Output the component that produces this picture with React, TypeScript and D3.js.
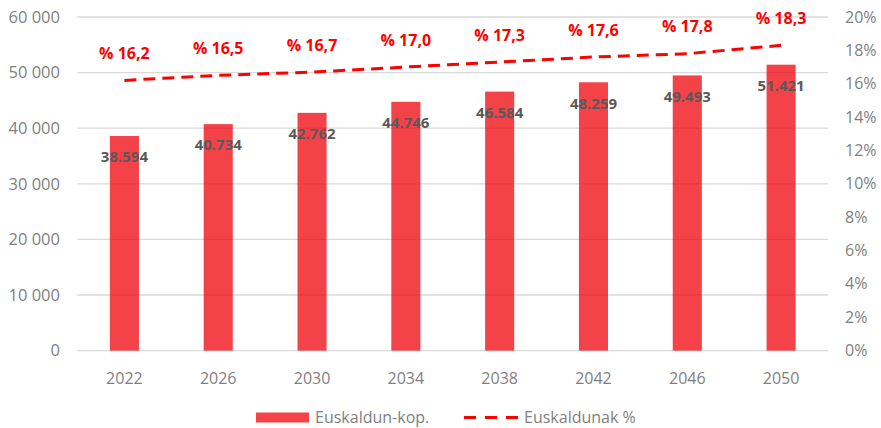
import React from "react";
import * as d3 from "d3";

const years = ["2022", "2026", "2030", "2034", "2038", "2042", "2046", "2050"];
const speakers = [38594, 40734, 42762, 44746, 46584, 48259, 49493, 51421];
const shares = [16.2, 16.5, 16.7, 17.0, 17.3, 17.6, 17.8, 18.3];
const leftTicks = [0, 10000, 20000, 30000, 40000, 50000, 60000];
const rightTicks = [0, 2, 4, 6, 8, 10, 12, 14, 16, 18, 20];

const W = 881;
const H = 428;
const FONT = "'Open Sans', 'Noto Sans', sans-serif";

const App: React.FC = () => {
	const x = d3.scaleBand().domain(years).range([77.5, 828]).paddingInner(0.69).paddingOuter(0.345);
	const yL = d3.scaleLinear().domain([0, 60000]).range([350.6, 17]);
	const yR = d3.scaleLinear().domain([0, 20]).range([350.6, 17]);
	const cx = (y: string) => (x(y) as number) + x.bandwidth() / 2;

	const fmtThousands = (v: number) => d3.format(",")(v).replace(/,/g, " ");
	const fmtLabel = (v: number) => d3.format(",")(v).replace(/,/g, ".");
	const fmtPct = (v: number) => "% " + v.toFixed(1).replace(".", ",");

	const line = d3
		.line<number>()
		.x((_, i) => cx(years[i]))
		.y((d) => yR(d));

	return (
		<svg width={W} height={H} style={{ position: "absolute", left: 0, top: 0, background: "#fff" }}>
			{leftTicks.map((t) => (
				<line key={t} x1={77.5} x2={828} y1={yL(t)} y2={yL(t)} stroke="#d9d9d9" strokeWidth={1.3} />
			))}
			{leftTicks.map((t) => (
				<text key={t} x={60} y={yL(t)} dy="0.35em" textAnchor="end" fontFamily={FONT} fontSize={16.5} fill="#7f7f7f">
					{fmtThousands(t)}
				</text>
			))}
			{rightTicks.map((t) => (
				<text key={t} x={845} y={yR(t)} dy="0.35em" textAnchor="start" fontFamily={FONT} fontSize={16} fill="#7f7f7f">
					{t}%
				</text>
			))}
			{years.map((y) => (
				<text key={y} x={cx(y)} y={378} dy="0.35em" textAnchor="middle" fontFamily={FONT} fontSize={16} fill="#7f7f7f">
					{y}
				</text>
			))}
			{speakers.map((v, i) => (
				<rect
					key={years[i]}
					x={x(years[i])}
					y={yL(v)}
					width={x.bandwidth()}
					height={yL(0) - yL(v)}
					fill="rgb(240,0,10)"
					fillOpacity={0.74}
				/>
			))}
			{speakers.map((v, i) => (
				<text
					key={years[i]}
					x={cx(years[i])}
					y={yL(v) + 21}
					dy="0.35em"
					textAnchor="middle"
					fontFamily={FONT}
					fontSize={15}
					fontWeight={700}
					fill="#595959"
				>
					{fmtLabel(v)}
				</text>
			))}
			<path d={line(shares) || ""} fill="none" stroke="#ff0000" strokeWidth={3} strokeDasharray="12 7" />
			{shares.map((v, i) => (
				<text
					key={years[i]}
					x={cx(years[i])}
					y={yR(v) - 27}
					dy="0.35em"
					textAnchor="middle"
					fontFamily={FONT}
					fontSize={16}
					fontWeight={700}
					fill="#ff0000"
				>
					{fmtPct(v)}
				</text>
			))}
			<rect x={256} y={412.5} width={53} height={10} fill="rgb(240,0,10)" fillOpacity={0.74} />
			<text x={315} y={417.5} dy="0.35em" fontFamily={FONT} fontSize={16} fill="#7f7f7f">
				Euskaldun-kop.
			</text>
			<line x1={464} x2={519} y1={417.5} y2={417.5} stroke="#ff0000" strokeWidth={3} strokeDasharray="12 9" />
			<text x={524} y={417.5} dy="0.35em" fontFamily={FONT} fontSize={16} fill="#7f7f7f">
				Euskaldunak %
			</text>
		</svg>
	);
};

export default App;
